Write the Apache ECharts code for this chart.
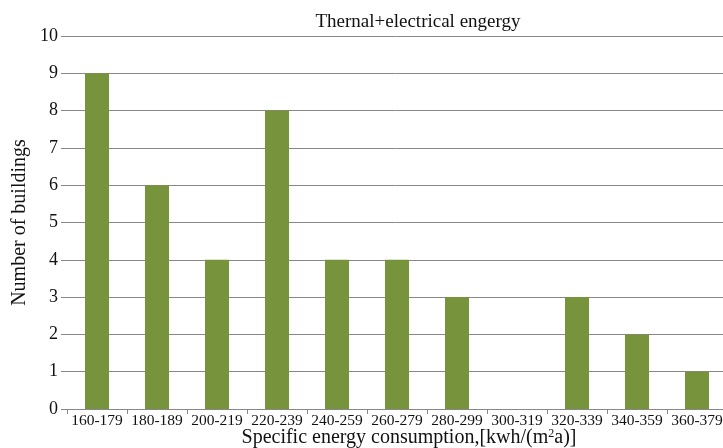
<!DOCTYPE html>
<html><head><meta charset="utf-8">
<script src="https://cdn.jsdelivr.net/npm/echarts@6/dist/echarts.min.js"></script>
<style>html,body{margin:0;padding:0;background:#fff;}#c{width:723px;height:448px;}</style>
</head><body><div id="c"></div>
<script>
var categories = ['160-179','180-189','200-219','220-239','240-259','260-279','280-299','300-319','320-339','340-359','360-379'];
var buildings = [9, 6, 4, 8, 4, 4, 3, 0, 3, 2, 1];
var yTicks = [0,1,2,3,4,5,6,7,8,9,10];
var font = 'Liberation Serif';
var chart = echarts.init(document.getElementById('c'));
chart.setOption({
  animation: false,
  title: {text: 'Thernal+electrical engergy', left: 413, top: 8, textAlign: 'center',
    textStyle: {fontFamily: font, fontSize: 19, fontWeight: 'normal', color: '#111'}},
  grid: {left: 67, top: 36, width: 660, height: 373, outerBoundsMode: 'none', containLabel: false},
  xAxis: {type: 'category', data: categories,
    name: 'Specific energy consumption,[kwh/(m{s|2}a)]', nameLocation: 'middle', nameGap: 19,
    nameMoveOverlap: false,
    nameTextStyle: {fontFamily: font, fontSize: 20, color: '#111', verticalAlign: 'top', padding: [0, 0, 0, 24],
      rich: {s: {fontFamily: font, fontSize: 12, verticalAlign: 'top', padding: [0,0,8,0], color: '#111'}}},
    axisLine: {lineStyle: {color: '#888', width: 1}},
    axisTick: {show: true, alignWithLabel: false, length: 5, lineStyle: {color: '#888'}},
    axisLabel: {fontFamily: font, fontSize: 15.5, color: '#111', margin: 4, interval: 0}},
  yAxis: {type: 'value', min: 0, max: 10, interval: 1,
    name: 'Number of buildings', nameLocation: 'middle', nameGap: 37, nameRotate: 90,
    nameMoveOverlap: false,
    nameTextStyle: {fontFamily: font, fontSize: 20, color: '#111'},
    axisLine: {show: false},
    axisTick: {show: true, length: 6, lineStyle: {color: '#888'}},
    splitLine: {lineStyle: {color: '#888', width: 1}},
    axisLabel: {fontFamily: font, fontSize: 18, color: '#111', margin: 9,
      formatter: function(v){ return yTicks.indexOf(v) >= 0 ? String(v) : ''; }}},
  series: [{type: 'bar', data: buildings, barWidth: 24,
    itemStyle: {color: '#77933C'}}]
});
</script></body></html>
